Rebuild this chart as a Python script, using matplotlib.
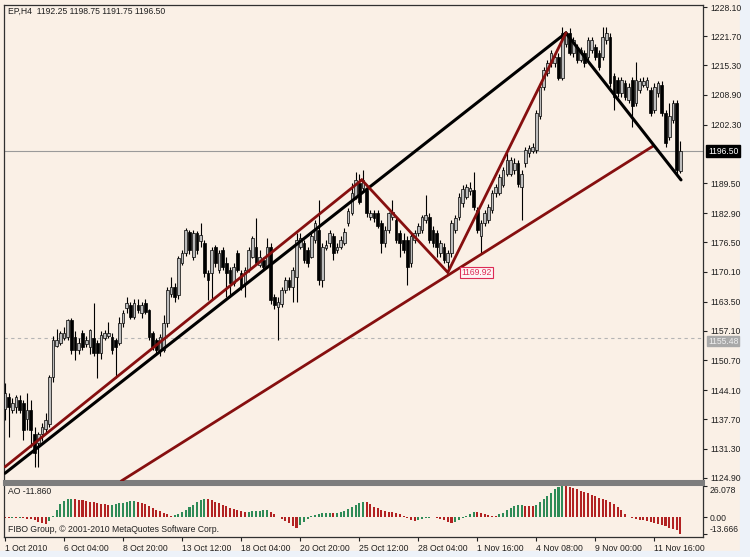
import matplotlib
matplotlib.use('Agg')
import matplotlib.pyplot as plt
from matplotlib.patches import Rectangle

plt.rcParams['font.family'] = ['Liberation Sans', 'DejaVu Sans']

# EP,H4 bars, 1 Oct 2010 .. 12 Nov 2010
opens = [1140.0, 1142.7, 1139.8, 1140.5, 1142.0, 1141.2, 1137.8, 1139.8, 1134.6, 1132.5,
         1134.6, 1135.7, 1136.8, 1147.1, 1153.9, 1154.4, 1155.5, 1155.8, 1159.5, 1155.8,
         1152.9, 1156.6, 1154.2, 1153.6, 1155.5, 1154.4, 1152.2, 1155.5, 1156.0, 1155.8,
         1155.1, 1154.4, 1158.8, 1162.1, 1162.8, 1160.2, 1162.8, 1161.0, 1163.2, 1161.7,
         1156.6, 1155.1, 1152.9, 1152.9, 1158.8, 1165.3, 1166.8, 1165.0, 1171.9, 1174.1,
         1178.8, 1173.4, 1178.5, 1176.8, 1176.3, 1169.7, 1169.7, 1175.6, 1170.4, 1174.8,
         1171.9, 1170.4, 1167.5, 1174.1, 1169.7, 1167.5, 1170.4, 1173.4, 1175.6, 1171.5,
         1172.6, 1171.2, 1175.6, 1164.6, 1162.4, 1163.1, 1166.1, 1168.2, 1166.8, 1169.0,
         1175.6, 1176.3, 1174.8, 1173.4, 1177.0, 1179.2, 1168.2, 1175.3, 1176.3, 1177.8,
         1174.8, 1175.6, 1176.3, 1180.7, 1182.9, 1186.5, 1189.5, 1188.4, 1188.0, 1182.1,
         1182.9, 1182.9, 1180.7, 1176.3, 1179.2, 1182.1, 1181.4, 1178.5, 1177.0, 1177.0,
         1171.9, 1177.0, 1178.5, 1179.2, 1181.4, 1182.1, 1179.2, 1178.5, 1174.1, 1175.6,
         1172.3, 1174.1, 1179.2, 1182.1, 1185.1, 1186.5, 1187.8, 1188.0, 1183.6, 1177.8,
         1180.7, 1181.4, 1183.6, 1187.3, 1187.3, 1189.1, 1191.6, 1191.6, 1192.4, 1193.8,
         1188.7, 1193.8, 1196.0, 1196.5, 1196.8, 1204.1, 1210.6, 1213.6, 1215.8, 1215.8,
         1217.2, 1212.5, 1220.1, 1222.3, 1218.0, 1219.4, 1216.5, 1218.0, 1217.2, 1218.7,
         1219.4, 1218.0, 1217.2, 1220.9, 1221.6, 1213.0, 1212.1, 1209.2, 1211.4, 1207.7,
         1212.1, 1207.0, 1209.9, 1211.1, 1210.6, 1209.9, 1205.5, 1209.2, 1211.0, 1204.8,
         1199.7, 1203.3, 1207.0, 1192.25]
highs = [1145.7, 1143.5, 1142.5, 1143.0, 1143.0, 1142.0, 1143.4, 1142.0, 1136.0, 1135.0,
         1137.0, 1139.0, 1147.5, 1156.0, 1157.5, 1157.0, 1158.0, 1159.8, 1160.0, 1157.0,
         1155.5, 1157.2, 1156.0, 1157.5, 1163.2, 1155.0, 1157.0, 1157.4, 1159.0, 1156.6,
         1155.5, 1160.2, 1161.7, 1164.5, 1163.5, 1164.0, 1164.2, 1163.5, 1164.0, 1162.0,
         1157.0, 1155.5, 1156.5, 1160.6, 1166.8, 1169.0, 1167.5, 1173.5, 1174.8, 1179.6,
         1179.2, 1179.2, 1179.0, 1180.7, 1177.0, 1170.4, 1175.6, 1176.0, 1174.8, 1175.6,
         1173.4, 1171.2, 1171.9, 1174.8, 1170.4, 1171.0, 1175.6, 1178.0, 1181.8, 1174.8,
         1173.4, 1177.4, 1176.3, 1165.3, 1164.6, 1166.8, 1169.0, 1169.0, 1171.2, 1178.5,
         1178.5, 1177.0, 1175.6, 1178.5, 1181.4, 1185.8, 1176.3, 1177.0, 1179.2, 1178.5,
         1176.3, 1177.8, 1179.6, 1184.0, 1189.5, 1192.0, 1191.6, 1192.4, 1189.0, 1183.6,
         1183.6, 1183.6, 1181.4, 1180.0, 1183.2, 1185.8, 1182.1, 1179.2, 1178.5, 1177.8,
         1178.5, 1179.2, 1180.7, 1182.5, 1186.9, 1182.9, 1180.0, 1179.2, 1177.0, 1176.3,
         1174.8, 1181.4, 1182.5, 1187.3, 1189.0, 1189.4, 1189.8, 1192.0, 1184.3, 1181.4,
         1183.6, 1185.0, 1188.0, 1189.4, 1191.6, 1193.1, 1196.8, 1195.3, 1195.0, 1194.6,
         1192.4, 1197.5, 1197.8, 1198.2, 1205.5, 1211.4, 1215.0, 1216.5, 1218.7, 1218.0,
         1218.0, 1223.8, 1222.8, 1223.4, 1221.6, 1220.1, 1219.4, 1218.7, 1221.6, 1221.6,
         1220.1, 1218.7, 1223.8, 1223.8, 1222.3, 1213.6, 1212.8, 1212.8, 1212.1, 1211.4,
         1212.8, 1216.1, 1212.5, 1212.8, 1212.8, 1210.6, 1211.4, 1211.8, 1211.8, 1205.5,
         1207.0, 1207.7, 1207.7, 1198.75]
lows = [1137.6, 1133.9, 1139.0, 1139.0, 1139.0, 1133.2, 1135.4, 1131.7, 1127.3, 1127.3,
        1133.0, 1135.0, 1136.0, 1146.0, 1153.6, 1154.0, 1155.0, 1155.0, 1152.0, 1150.7,
        1152.0, 1153.0, 1153.5, 1152.0, 1151.5, 1146.8, 1151.0, 1155.0, 1155.5, 1152.0,
        1146.8, 1154.0, 1158.0, 1161.0, 1159.8, 1159.8, 1161.0, 1160.0, 1160.8, 1155.0,
        1153.0, 1152.0, 1151.5, 1152.5, 1158.0, 1164.5, 1163.5, 1164.0, 1171.5, 1173.5,
        1174.0, 1172.6, 1174.0, 1175.5, 1169.0, 1163.9, 1163.9, 1171.0, 1169.7, 1170.4,
        1164.6, 1164.6, 1167.0, 1170.0, 1166.1, 1164.6, 1170.0, 1173.0, 1171.5, 1171.0,
        1170.4, 1170.8, 1163.1, 1162.0, 1155.1, 1162.4, 1165.5, 1166.1, 1163.5, 1163.5,
        1175.0, 1172.0, 1171.2, 1173.0, 1176.3, 1167.2, 1166.8, 1174.8, 1175.6, 1172.6,
        1174.1, 1175.0, 1175.9, 1180.0, 1182.5, 1186.0, 1185.0, 1187.8, 1182.1, 1181.4,
        1181.0, 1179.6, 1174.1, 1175.6, 1178.5, 1181.4, 1176.3, 1173.4, 1174.1, 1167.2,
        1171.2, 1176.3, 1177.8, 1178.5, 1180.7, 1176.3, 1175.6, 1173.4, 1173.4, 1171.9,
        1169.92, 1173.4, 1178.5, 1181.4, 1184.3, 1186.0, 1187.0, 1183.6, 1178.5, 1174.1,
        1180.0, 1180.7, 1183.0, 1186.5, 1186.8, 1188.7, 1191.0, 1191.0, 1191.6, 1188.7,
        1181.4, 1193.0, 1195.3, 1196.0, 1196.0, 1203.5, 1210.0, 1213.0, 1215.0, 1215.0,
        1212.1, 1212.0, 1219.4, 1217.5, 1217.2, 1215.8, 1216.0, 1215.0, 1216.5, 1218.0,
        1216.5, 1214.3, 1216.5, 1220.1, 1210.6, 1205.5, 1208.4, 1208.4, 1207.7, 1207.0,
        1201.9, 1206.3, 1209.2, 1210.6, 1210.0, 1204.1, 1204.8, 1208.4, 1204.1, 1197.5,
        1199.0, 1202.6, 1191.0, 1191.75]
closes = [1143.4, 1140.5, 1141.2, 1142.7, 1139.8, 1135.4, 1139.8, 1135.4, 1130.3, 1134.6,
          1136.1, 1137.6, 1147.1, 1155.1, 1155.1, 1156.6, 1156.6, 1159.5, 1152.9, 1152.9,
          1154.4, 1153.6, 1155.0, 1157.3, 1152.2, 1152.2, 1156.2, 1156.6, 1156.6, 1152.9,
          1153.6, 1158.8, 1161.0, 1163.2, 1160.2, 1163.2, 1161.7, 1162.8, 1161.3, 1155.8,
          1153.6, 1152.9, 1155.8, 1158.8, 1166.1, 1166.8, 1164.6, 1173.0, 1174.1, 1179.2,
          1174.8, 1178.5, 1174.8, 1178.2, 1169.7, 1168.2, 1174.8, 1171.9, 1174.1, 1171.2,
          1169.7, 1167.5, 1171.2, 1170.4, 1166.8, 1170.4, 1174.8, 1177.4, 1171.9, 1173.4,
          1171.2, 1175.6, 1163.9, 1162.8, 1163.5, 1166.1, 1168.2, 1166.8, 1170.4, 1177.0,
          1177.4, 1172.6, 1171.9, 1177.8, 1180.7, 1168.2, 1175.6, 1176.0, 1178.5, 1174.1,
          1175.6, 1177.0, 1178.8, 1183.4, 1187.3, 1190.2, 1185.4, 1190.2, 1182.9, 1182.9,
          1181.8, 1180.0, 1176.3, 1179.2, 1182.9, 1183.2, 1177.0, 1176.3, 1174.8, 1171.2,
          1177.8, 1178.5, 1180.0, 1182.1, 1182.5, 1177.0, 1176.3, 1175.6, 1176.3, 1172.6,
          1174.1, 1180.7, 1181.8, 1186.5, 1188.2, 1188.7, 1188.5, 1184.3, 1179.2, 1180.7,
          1182.9, 1184.3, 1187.3, 1188.7, 1190.9, 1192.4, 1194.6, 1194.6, 1193.8, 1189.4,
          1191.6, 1196.8, 1197.2, 1197.5, 1204.8, 1210.6, 1214.3, 1215.8, 1218.0, 1217.2,
          1212.5, 1222.3, 1222.3, 1218.0, 1220.9, 1216.5, 1218.7, 1215.8, 1220.9, 1220.9,
          1217.2, 1215.0, 1221.6, 1222.3, 1211.4, 1208.4, 1209.2, 1212.1, 1208.4, 1210.6,
          1206.3, 1212.1, 1211.8, 1211.8, 1212.1, 1204.8, 1210.6, 1211.4, 1204.8, 1198.2,
          1204.1, 1207.0, 1192.4, 1196.50]

# Awesome Oscillator values per bar
ao = [-0.3, -0.4, -0.3, -0.5, -0.4, -0.6, -0.9,
      -1.5, -2.5, -3.5, -4.5, -5.3,
      -3.0, 1.5, 6.5, 11.0, 13.8, 15.0, 15.5,
      15.2, 14.6, 14.0, 13.5, 12.9, 12.5, 11.8, 11.3, 10.8, 10.4,
      10.6, 11.0, 11.5, 12.2, 12.9, 13.4, 13.8,
      13.0, 12.0, 10.8, 9.5, 8.0, 6.5, 5.0, 3.6, 2.5, 1.5,
      1.8, 3.0, 4.6, 6.5, 8.5, 10.5, 12.5, 14.5, 15.5,
      15.0, 14.0, 12.8, 11.5, 10.3, 9.0, 8.0, 7.0, 6.0, 5.0, 4.2,
      4.6, 5.0, 5.2, 5.4, 5.8, 6.0,
      4.5, 2.5, 0.5, -1.5, -3.0, -4.5, -7.0, -9.0,
      -6.0, -3.5, -1.5,
      0.8, 2.0, 3.0, 3.5, 3.8, 4.0, 3.8,
      4.0, 4.6, 5.5, 7.0, 8.5, 10.0, 11.5, 13.0,
      12.5, 11.3,
      8.5, 7.5, 6.0, 5.0, 4.8, 4.5, 4.0, 2.5, 1.0, -0.5, -2.0, -3.0,
      -2.5, -1.5, -0.8, -0.3, 0.2, -0.3,
      -1.2, -2.4, -3.4, -4.2, -3.8, -2.0, -0.5, 1.5, 3.0, 4.5,
      4.3, 3.5, 3.0, 2.2, 1.5, 1.2,
      2.5, 4.0, 6.0, 7.5, 9.0, 10.0, 10.3,
      9.8, 9.6, 9.5,
      10.5, 12.5, 15.0, 17.5, 20.5, 23.0, 25.0, 26.078,
      25.8, 25.2, 24.5, 23.3, 22.0, 21.0, 19.8, 18.5, 17.3, 16.3, 15.5, 14.3, 13.0, 11.0,
      8.5, 6.0, 3.0, 0.5,
      -0.8, -1.5, -2.0, -2.5, -3.0, -3.5, -4.5, -5.0, -6.0, -7.0, -8.5, -9.5, -10.5, -13.666]

price_ticks = [1228.10, 1221.70, 1215.30, 1208.90, 1202.30, 1189.50, 1182.90, 1176.50,
               1170.10, 1163.50, 1157.10, 1150.70, 1144.10, 1137.70, 1131.30, 1124.90]
time_ticks = [0, 16, 32, 48, 64, 80, 96, 112, 128, 144, 160, 176]
time_labels = ['1 Oct 2010', '6 Oct 04:00', '8 Oct 20:00', '13 Oct 12:00', '18 Oct 04:00',
               '20 Oct 20:00', '25 Oct 12:00', '28 Oct 04:00', '1 Nov 16:00', '4 Nov 08:00',
               '9 Nov 00:00', '11 Nov 16:00']

# hand-drawn objects (bar index, price)
black_up = ([0, 152], [1125.9, 1222.4])
black_down = ([152, 183.2], [1222.4, 1190.2])
red_channel = ([0, 96.7], [1127.3, 1190.2])
red_support = ([31.5, 175.6], [1124.2, 1197.6])
zigzag = ([96.7, 120, 152], [1190.2, 1169.92, 1222.4])

BG = '#faf0e6'
W, H = 750, 557
fx = lambda px: px / W
fy = lambda py: 1 - py / H
FS = 6.2

fig = plt.figure(figsize=(7.5, 5.57), dpi=100, facecolor=BG)
fig.add_artist(Rectangle((fx(740), 0), 1 - fx(740), 1, transform=fig.transFigure,
                         color='#edf2f9', zorder=-10))
fig.add_artist(Rectangle((0, 0), 1, fy(551), transform=fig.transFigure,
                         color='#edf2f9', zorder=-10))

ax = fig.add_axes([fx(4), fy(481), fx(703) - fx(4), fy(5) - fy(481)])
ax_ao = fig.add_axes([fx(4), fy(537), fx(703) - fx(4), fy(484) - fy(537)], sharex=ax)

n = len(closes)
idx = list(range(n))

# candles
ax.vlines(idx, lows, highs, colors='black', lw=0.8, zorder=2)
bottoms = [min(o, c) for o, c in zip(opens, closes)]
heights = [max(abs(c - o), 0.25) for o, c in zip(opens, closes)]
faces = ['#bdbdbd' if c >= o else 'black' for o, c in zip(opens, closes)]
ax.bar(idx, heights, bottom=bottoms, width=0.72, color=faces, edgecolor='black',
       linewidth=0.5, zorder=3)

ax.axhline(1196.50, color='#9a9a9a', lw=0.8, zorder=1)
ax.axhline(1155.48, color='#b5b5b5', lw=0.8, ls=(0, (3, 3)), zorder=1)

red = '#860f0f'
ax.plot(*red_support, color=red, lw=2.0, zorder=4, solid_capstyle='round')
ax.plot(*red_channel, color=red, lw=2.0, zorder=4, solid_capstyle='round')
ax.plot(*black_up, color='black', lw=2.2, zorder=4, solid_capstyle='round')
ax.plot(*black_down, color='black', lw=2.2, zorder=4, solid_capstyle='round')
ax.plot(*zigzag, color=red, lw=2.0, zorder=5, solid_joinstyle='miter')

ax.text(123.6, 1169.92, '1169.92', color='#dd2a55', fontsize=FS, va='center', ha='left',
        zorder=6, bbox=dict(boxstyle='square,pad=0.15', fc='#fdf4f4', ec='#dd2a55', lw=0.8))

ax.set_xlim(-0.27, 189.16)
ax.set_ylim(1124.2, 1228.54)
ax.set_facecolor(BG)
ax.yaxis.tick_right()
ax.set_yticks(price_ticks)
ax.set_yticklabels(['%.2f' % v for v in price_ticks])
ax.tick_params(axis='y', direction='out', length=3, width=0.8, pad=2,
               labelsize=FS, colors='#202020')
ax.tick_params(axis='x', bottom=False, labelbottom=False)
for s in ['top', 'left', 'right']:
    ax.spines[s].set_color('#303030')
    ax.spines[s].set_linewidth(0.9)
ax.spines['bottom'].set_color('#7d7d7d')
ax.spines['bottom'].set_linewidth(2.2)

# AO panel
ao_cols = ['#2e8b57' if i > 0 and ao[i] > ao[i - 1] else '#b22222' for i in idx]
ax_ao.bar(idx, ao, width=0.55, color=ao_cols, zorder=2)
ax_ao.set_ylim(-16.1, 27.5)
ax_ao.set_facecolor(BG)
ax_ao.yaxis.tick_right()
ax_ao.set_yticks([26.078, 0.0, -13.666])
ax_ao.set_yticklabels(['26.078', '0.00', '-13.666'])
ylabs = ax_ao.get_yticklabels()
ylabs[0].set_va('top')
ylabs[2].set_va('bottom')
ax_ao.tick_params(axis='y', direction='out', length=3, width=0.8, pad=2,
                  labelsize=FS, colors='#202020')
ax_ao.set_xticks(time_ticks)
ax_ao.set_xticklabels(time_labels)
for lab in ax_ao.get_xticklabels():
    lab.set_ha('left')
ax_ao.tick_params(axis='x', direction='out', length=3, width=0.8, pad=2,
                  labelsize=FS, colors='#202020')
for s in ['bottom', 'left', 'right']:
    ax_ao.spines[s].set_color('#303030')
    ax_ao.spines[s].set_linewidth(0.9)
ax_ao.spines['top'].set_color('#7d7d7d')
ax_ao.spines['top'].set_linewidth(2.2)

# texts
fig.text(fx(8), fy(11), 'EP,H4  1192.25 1198.75 1191.75 1196.50', fontsize=FS,
         va='center', ha='left', color='#202020')
fig.text(fx(8), fy(492), 'AO -11.860', fontsize=FS, va='center', ha='left', color='#202020')
fig.text(fx(8), fy(530), 'FIBO Group, \u00a9 2001-2010 MetaQuotes Software Corp.',
         fontsize=FS, va='center', ha='left', color='#202020')
fig.text(fx(708), fy(151), '1196.50', fontsize=FS, va='center', ha='left', color='white',
         bbox=dict(boxstyle='square,pad=0.2', fc='black', ec='black'))
fig.text(fx(708), fy(341), '1155.48', fontsize=FS, va='center', ha='left', color='#eeeeee',
         bbox=dict(boxstyle='square,pad=0.1', fc='#a9a9a9', ec='#a9a9a9'))

fig.savefig('out.png', dpi=100, facecolor=BG)
